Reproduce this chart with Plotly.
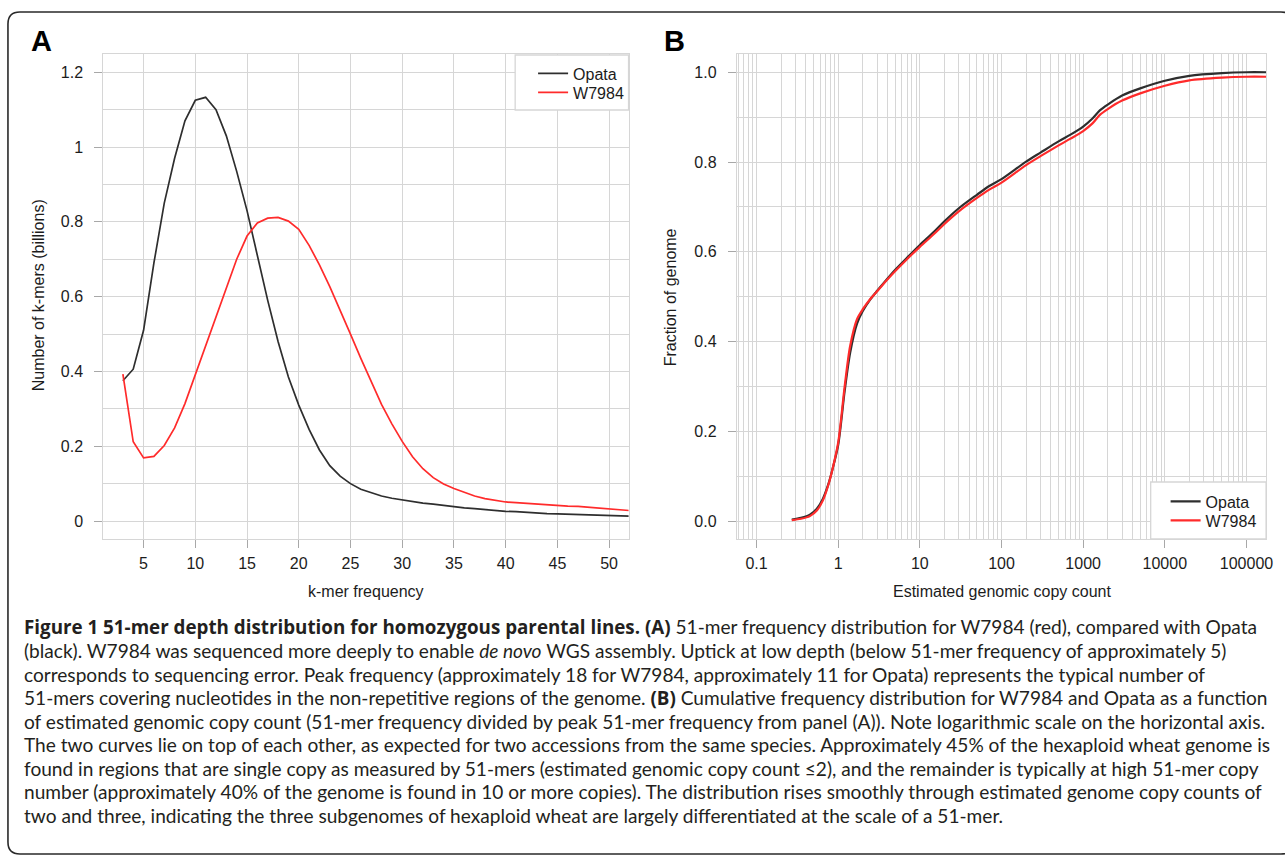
import plotly.graph_objects as go

W, H = 1285, 857


def px(x):
    return x / W


def py(y):
    return 1 - y / H


# ---------------- data ----------------
kmer_freq = list(range(3, 53))
opata_kmers = [0.375, 0.406, 0.51, 0.69, 0.85, 0.97, 1.07, 1.125, 1.133, 1.10,
               1.03, 0.935, 0.83, 0.71, 0.59, 0.48, 0.385, 0.31, 0.245, 0.19,
               0.148, 0.12, 0.10, 0.085, 0.075, 0.067, 0.061, 0.056, 0.052, 0.048,
               0.045, 0.041, 0.038, 0.035, 0.033, 0.030, 0.028, 0.026, 0.025, 0.023,
               0.022, 0.020, 0.019, 0.018, 0.017, 0.016, 0.0155, 0.015, 0.014, 0.013]
w7984_kmers = [0.393, 0.212, 0.169, 0.173, 0.202, 0.249, 0.314, 0.391, 0.467, 0.542,
               0.622, 0.70, 0.762, 0.797, 0.810, 0.812, 0.802, 0.78, 0.737, 0.685,
               0.627, 0.565, 0.50, 0.435, 0.372, 0.312, 0.26, 0.213, 0.172, 0.14,
               0.116, 0.099, 0.087, 0.076, 0.067, 0.060, 0.055, 0.051, 0.049, 0.047,
               0.045, 0.044, 0.042, 0.040, 0.039, 0.037, 0.035, 0.033, 0.031, 0.028]

copy_count = [0.27, 0.35, 0.45, 0.55, 0.65, 0.75, 0.85, 1.0, 1.2, 1.4, 1.7, 2.0,
              2.5, 3.0, 4, 5, 7, 10, 15, 20, 30, 50, 70, 100, 200, 300, 500, 700,
              1000, 1300, 1600, 2000, 3000, 5000, 10000, 20000, 50000, 100000, 175000]
opata_cum = [0.003, 0.007, 0.014, 0.028, 0.05, 0.08, 0.115, 0.17, 0.29, 0.375, 0.44,
             0.468, 0.495, 0.513, 0.54, 0.56, 0.587, 0.615, 0.645, 0.668, 0.697,
             0.727, 0.746, 0.762, 0.801, 0.821, 0.846, 0.861, 0.879, 0.897, 0.915,
             0.928, 0.948, 0.964, 0.981, 0.992, 0.998, 1.0, 1.0]
w7984_cum = [0.002, 0.005, 0.011, 0.024, 0.046, 0.078, 0.115, 0.175, 0.30, 0.39, 0.45,
             0.472, 0.496, 0.512, 0.538, 0.557, 0.584, 0.611, 0.64, 0.662, 0.69,
             0.72, 0.738, 0.754, 0.793, 0.813, 0.837, 0.852, 0.869, 0.886, 0.905,
             0.918, 0.937, 0.953, 0.97, 0.982, 0.988, 0.99, 0.99]

a_xticks = [5, 10, 15, 20, 25, 30, 35, 40, 45, 50]
a_yticks = [0, 0.2, 0.4, 0.6, 0.8, 1.0, 1.2]
a_yticklabels = ["0", "0.2", "0.4", "0.6", "0.8", "1", "1.2"]
b_xticks = [0.1, 1, 10, 100, 1000, 10000, 100000]
b_xticklabels = ["0.1", "1", "10", "100", "1000", "10000", "100000"]
b_yticks = [0, 0.2, 0.4, 0.6, 0.8, 1.0]
b_yticklabels = ["0.0", "0.2", "0.4", "0.6", "0.8", "1.0"]

series_names = ["Opata", "W7984"]

BOLD = '<span style="font-family:Open Sans;font-size:18.8px"><b>{}</b></span>'
caption_lines = [
    BOLD.format("Figure 1 51-mer depth distribution for homozygous parental lines. (A)")
    + " 51-mer frequency distribution for W7984 (red), compared with Opata",
    "(black). W7984 was sequenced more deeply to enable <i>de novo</i> WGS assembly. Uptick at low depth (below 51-mer frequency of approximately 5)",
    "corresponds to sequencing error. Peak frequency (approximately 18 for W7984, approximately 11 for Opata) represents the typical number of",
    "51-mers covering nucleotides in the non-repetitive regions of the genome. " + BOLD.format("(B)")
    + " Cumulative frequency distribution for W7984 and Opata as a function",
    "of estimated genomic copy count (51-mer frequency divided by peak 51-mer frequency from panel (A)). Note logarithmic scale on the horizontal axis.",
    "The two curves lie on top of each other, as expected for two accessions from the same species. Approximately 45% of the hexaploid wheat genome is",
    "found in regions that are single copy as measured by 51-mers (estimated genomic copy count \u22642), and the remainder is typically at high 51-mer copy",
    "number (approximately 40% of the genome is found in 10 or more copies). The distribution rises smoothly through estimated genome copy counts of",
    "two and three, indicating the three subgenomes of hexaploid wheat are largely differentiated at the scale of a 51-mer.",
]

# ---------------- style ----------------
BLACK = "#2e2e2e"
RED = "#ff2b2b"
GRID = "#d6d6d6"
TICK = "#a8a8a8"
TXT = "#1c1c1c"
AXFONT = "Liberation Sans, Arial, sans-serif"
CAPFONT = "Lato, Open Sans, sans-serif"
FS = 16

fig = go.Figure()
fig.add_trace(go.Scatter(x=kmer_freq, y=opata_kmers, mode="lines", name=series_names[0],
                         line=dict(color=BLACK, width=1.7), xaxis="x", yaxis="y", legend="legend"))
fig.add_trace(go.Scatter(x=kmer_freq, y=w7984_kmers, mode="lines", name=series_names[1],
                         line=dict(color=RED, width=1.7), xaxis="x", yaxis="y", legend="legend3"))
fig.add_trace(go.Scatter(x=copy_count, y=opata_cum, mode="lines", name=series_names[0],
                         line=dict(color=BLACK, width=2.2, shape="spline", smoothing=0.8),
                         xaxis="x2", yaxis="y2", legend="legend2"))
fig.add_trace(go.Scatter(x=copy_count, y=w7984_cum, mode="lines", name=series_names[1],
                         line=dict(color=RED, width=2.2, shape="spline", smoothing=0.8),
                         xaxis="x2", yaxis="y2", legend="legend4"))

common = dict(showline=True, linecolor=GRID, linewidth=1.3, mirror=True,
              showgrid=True, gridcolor=GRID, gridwidth=1.3, zeroline=False,
              ticks="outside", ticklen=8, tickwidth=1.2, tickcolor=TICK,
              tickfont=dict(family=AXFONT, size=FS, color=TXT), fixedrange=True)

ydom = [py(539), py(54.3)]

minor_log = [m * 10 ** e for e in range(-2, 6) for m in range(2, 10)]


def leg(x, y):
    return dict(x=px(x), xanchor="left", y=py(y), yanchor="top",
                bgcolor="rgba(0,0,0,0)", borderwidth=0, tracegroupgap=0,
                font=dict(family=AXFONT, size=FS, color=TXT))


fig.update_layout(
    width=W, height=H, autosize=False,
    margin=dict(l=0, r=0, t=0, b=0),
    paper_bgcolor="white", plot_bgcolor="white",
    showlegend=True,
    xaxis=dict(domain=[px(104), px(632)], range=[1.12, 51.88], tickmode="array",
               tickvals=a_xticks, ticklabelstandoff=2, anchor="y", **common),
    yaxis=dict(domain=ydom, range=[-0.048, 1.248], tickmode="array", tickvals=a_yticks,
               ticktext=a_yticklabels, ticklabelstandoff=8, anchor="x",
               minor=dict(dtick=0.1, tick0=0, showgrid=True, gridcolor=GRID, gridwidth=1.3, ticks=""),
               **common),
    xaxis2=dict(domain=[px(741), px(1273)], type="log", range=[-1.24, 5.24], tickmode="array",
                tickvals=b_xticks, ticktext=b_xticklabels, ticklabelstandoff=2, anchor="y2",
                minor=dict(tickmode="array", tickvals=minor_log, showgrid=True, gridcolor=GRID,
                           gridwidth=1.3, ticks=""),
                **common),
    yaxis2=dict(domain=ydom, range=[-0.04, 1.04], tickmode="array", tickvals=b_yticks,
                ticktext=b_yticklabels, ticklabelstandoff=8, anchor="x2",
                minor=dict(dtick=0.1, tick0=0, showgrid=True, gridcolor=GRID, gridwidth=1.3, ticks=""),
                **common),
    legend=leg(536, 56.5),
    legend3=leg(536, 75.5),
    legend2=leg(1172, 484.5),
    legend4=leg(1172, 503.5),
)

shapes = []
# legend boxes
shapes.append(dict(type="rect", xref="paper", yref="paper", x0=px(518), x1=px(632),
                   y0=py(110), y1=py(55), fillcolor="white", line=dict(color=GRID, width=1.3),
                   layer="above"))
shapes.append(dict(type="rect", xref="paper", yref="paper", x0=px(1157), x1=px(1273),
                   y0=py(539), y1=py(482), fillcolor="white", line=dict(color=GRID, width=1.3),
                   layer="above"))
# rounded outer frame
x0, y0, x1, y1, r = 8, 12, 1300, 854, 12
path = (f"M {px(x0 + r)},{py(y0)} L {px(x1 - r)},{py(y0)} "
        f"Q {px(x1)},{py(y0)} {px(x1)},{py(y0 + r)} L {px(x1)},{py(y1 - r)} "
        f"Q {px(x1)},{py(y1)} {px(x1 - r)},{py(y1)} L {px(x0 + r)},{py(y1)} "
        f"Q {px(x0)},{py(y1)} {px(x0)},{py(y1 - r)} L {px(x0)},{py(y0 + r)} "
        f"Q {px(x0)},{py(y0)} {px(x0 + r)},{py(y0)} Z")
shapes.append(dict(type="path", xref="paper", yref="paper", path=path,
                   line=dict(color="#2a2a2a", width=1.6), layer="below"))
fig.update_layout(shapes=shapes)


def A(text, x, y, size=FS, angle=0, family=AXFONT, color=TXT, xanchor="center"):
    return dict(text=text, x=px(x), y=py(y), xref="paper", yref="paper",
                xanchor=xanchor, yanchor="middle", textangle=angle, showarrow=False,
                font=dict(family=family, size=size, color=color))


ann = [
    A("<b>A</b>", 42, 41, size=29, color="#000"),
    A("<b>B</b>", 678, 41, size=29, color="#000"),
    A("k-mer frequency", 368, 591),
    A("Estimated genomic copy count", 1007, 591),
    A("Number of k-mers (billions)", 38.5, 295, angle=-90),
    A("Fraction of genome", 674, 297, angle=-90),
]

cap_y0 = 627
cap_dy = 23.5
for i, line in enumerate(caption_lines):
    ann.append(A(line, 22, cap_y0 + i * cap_dy, size=19.1, family=CAPFONT,
                 color="#231f20", xanchor="left"))
fig.update_layout(annotations=ann)

fig.write_html("out.html", config={"displayModeBar": False},
               post_script="document.body.style.margin='0';document.body.style.overflow='hidden';")
